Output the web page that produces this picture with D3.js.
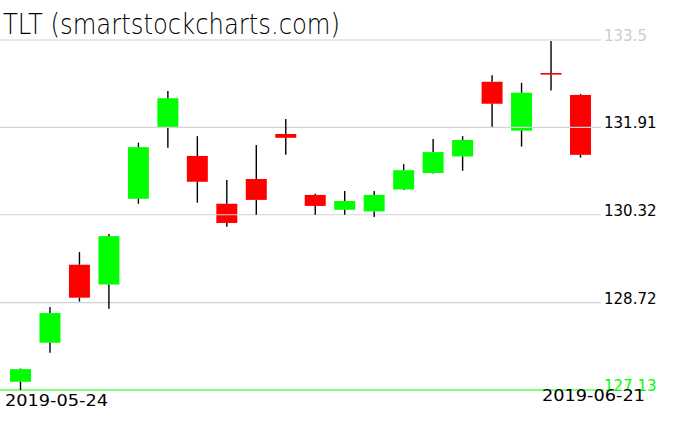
<!DOCTYPE html>
<html>
<head>
<meta charset="utf-8">
<script src="https://cdn.jsdelivr.net/npm/d3@7"></script>
<style>
  html, body { margin: 0; padding: 0; background: #fff; }
  svg { display: block; }
</style>
</head>
<body>
<svg id="chart" width="676" height="431"></svg>
<script>
const dates  = ["2019-05-24","2019-05-28","2019-05-29","2019-05-30","2019-05-31",
                "2019-06-03","2019-06-04","2019-06-05","2019-06-06","2019-06-07",
                "2019-06-10","2019-06-11","2019-06-12","2019-06-13","2019-06-14",
                "2019-06-17","2019-06-18","2019-06-19","2019-06-20","2019-06-21"];
const opens  = [127.28,127.99,129.41,129.05,130.61,131.90,131.39,130.52,130.97,131.79,
                130.68,130.41,130.38,130.78,131.08,131.38,132.74,131.85,132.90,132.50];
const highs  = [127.52,128.64,129.64,129.97,131.63,132.57,131.75,130.95,131.59,132.06,
                130.70,130.75,130.75,131.24,131.70,131.75,132.86,132.72,133.48,132.52];
const lows   = [127.13,127.81,128.74,128.61,130.52,131.54,130.54,130.10,130.32,131.41,
                130.32,130.32,130.28,130.77,131.07,131.12,131.92,131.56,132.58,131.36];
const closes = [127.51,128.53,128.81,129.93,131.55,132.44,130.92,130.17,130.59,131.72,
                130.48,130.57,130.68,131.13,131.46,131.68,132.34,132.54,132.87,131.41];
const yTicks = [133.5, 131.91, 130.32, 128.72, 127.13];
const yTickLabels = ["133.5", "131.91", "130.32", "128.72", "127.13"];
const dateLabels = ["2019-05-24", "2019-06-21"];
const title = "TLT (smartstockcharts.com)";

const svg = d3.select("#chart");
const y = d3.scaleLinear().domain([127.13, 133.5]).range([390, 40]);
const x = d3.scalePoint().domain(dates).range([20.5, 580.5]);
const bw = x.step() * 0.712;

const data = dates.map((d, i) => ({d, o: opens[i], h: highs[i], l: lows[i], c: closes[i]}));

// bodies
svg.append("g").selectAll("rect").data(data).join("rect")
  .attr("x", d => x(d.d) - bw / 2)
  .attr("width", bw)
  .attr("y", d => y(Math.max(d.o, d.c)))
  .attr("height", d => Math.max(1.5, Math.abs(y(d.o) - y(d.c))))
  .attr("fill", d => d.c >= d.o ? "#00ff00" : "#ff0000");

// grid lines
const grid = svg.append("g");
yTicks.forEach((t, i) => {
  const last = i === yTicks.length - 1;
  grid.append("line")
    .attr("x1", 0).attr("x2", last ? 604 : 601)
    .attr("y1", y(t)).attr("y2", y(t))
    .attr("stroke", last ? "#00ff00" : "#d3d3d3")
    .attr("stroke-width", 1.2);
  grid.append("text")
    .attr("x", 604).attr("y", y(t) + 1)
    .attr("font-family", "DejaVu Sans")
    .attr("font-size", 15)
    .attr("fill", i === 0 ? "#cccccc" : (last ? "#00ff00" : "#000"))
    .text(yTickLabels[i]);
});

// wicks (outside bodies)
const wk = svg.append("g").attr("stroke", "#000").attr("stroke-width", 1.4);
data.forEach(d => {
  const top = y(Math.max(d.o, d.c)), bot = y(Math.min(d.o, d.c));
  wk.append("line").attr("x1", x(d.d)).attr("x2", x(d.d)).attr("y1", y(d.h)).attr("y2", top);
  wk.append("line").attr("x1", x(d.d)).attr("x2", x(d.d)).attr("y1", bot).attr("y2", y(d.l));
});

// date labels
svg.append("text")
  .attr("x", x(dateLabels[0]) - 15.5).attr("y", 406)
  .attr("font-family", "DejaVu Sans").attr("font-size", 15)
  .attr("textLength", 103).attr("lengthAdjust", "spacingAndGlyphs")
  .attr("fill", "#000").text(dateLabels[0]);
svg.append("text")
  .attr("x", x(dateLabels[1]) - 38.5).attr("y", 401)
  .attr("font-family", "DejaVu Sans").attr("font-size", 15)
  .attr("textLength", 103).attr("lengthAdjust", "spacingAndGlyphs")
  .attr("fill", "#000").text(dateLabels[1]);

// title
svg.append("text")
  .attr("x", 3).attr("y", 34)
  .attr("font-family", "DejaVu Sans").attr("font-weight", 200)
  .attr("font-size", 28)
  .attr("textLength", 337).attr("lengthAdjust", "spacingAndGlyphs")
  .attr("fill", "#000").text(title);
</script>
</body>
</html>
